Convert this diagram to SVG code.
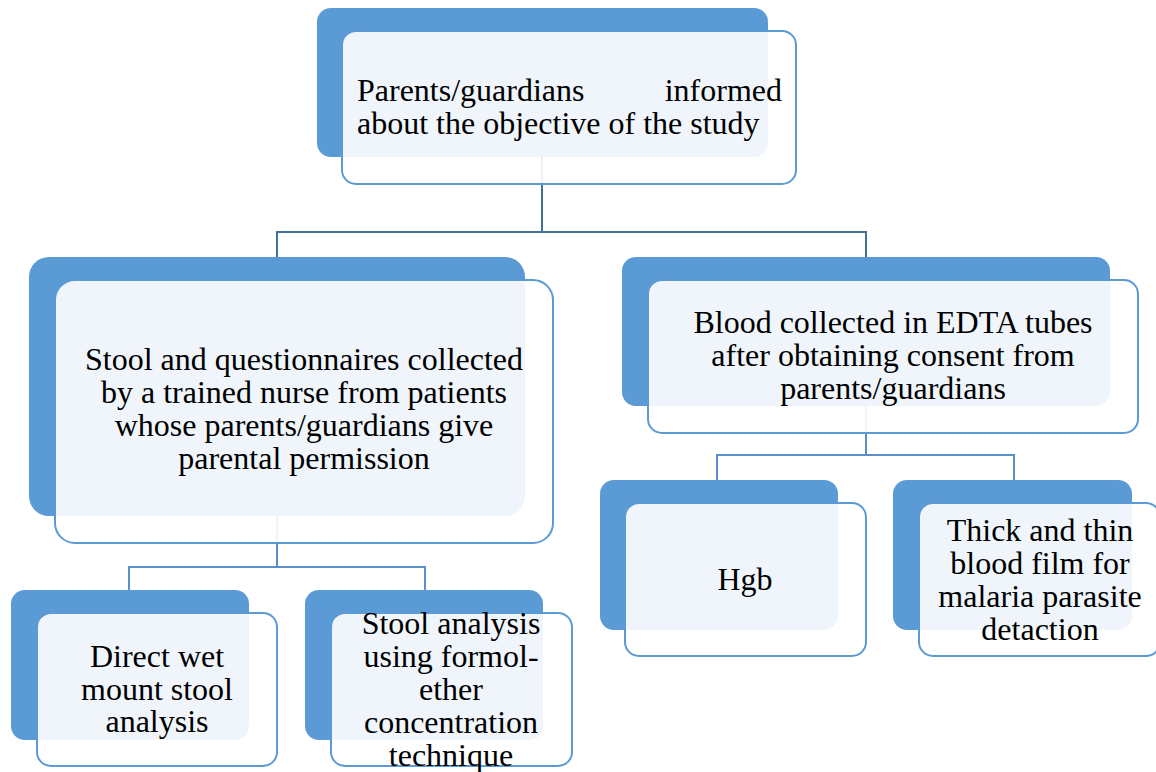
<svg xmlns="http://www.w3.org/2000/svg" width="1156" height="772" viewBox="0 0 1156 772">
<style>
.back{fill:#5B9BD5}
.front{fill:#FFFFFF;fill-opacity:0.9;stroke:#5B9BD5;stroke-width:2}
.conn{fill:none;stroke:#41719C;stroke-width:2}
.conn2{fill:none;stroke:#5B8FC8;stroke-width:2}
text{font-family:"Liberation Serif","Times New Roman",serif;font-size:32px;fill:#000}
.c{text-anchor:middle}
</style>
<rect width="1156" height="772" fill="#FFFFFF"/>
<g id="connectors">
<path class="conn" d="M542 157 V232 M277 232 H866 M277 231 V257 M866 231 V257"/>
<path class="conn2" d="M277 516 V567 M129 567 H425 M129 566 V590 M425 566 V590"/>
<path class="conn2" d="M866 406 V455 M717 455 H1014 M717 454 V480 M1014 454 V480"/>
</g>
<g id="node-top">
<rect class="back" x="317" y="8" width="451" height="149" rx="14"/>
<rect class="front" x="342" y="31" width="454" height="153" rx="14"/>
<text x="357" y="101">Parents/guardians</text>
<text x="782" y="101" text-anchor="end">informed</text>
<text x="357" y="134">about the objective of the study</text>
</g>
<g id="node-stool">
<rect class="back" x="29" y="257" width="496" height="259" rx="20"/>
<rect class="front" x="55" y="280" width="498" height="263" rx="20"/>
<text class="c" x="304" y="370">Stool and questionnaires collected</text>
<text class="c" x="304" y="403">by a trained nurse from patients</text>
<text class="c" x="304" y="436">whose parents/guardians give</text>
<text class="c" x="304" y="469">parental permission</text>
</g>
<g id="node-blood">
<rect class="back" x="622" y="257" width="488" height="149" rx="14"/>
<rect class="front" x="648" y="280" width="490" height="153" rx="14"/>
<text class="c" x="893" y="333">Blood collected in EDTA tubes</text>
<text class="c" x="893" y="366">after obtaining consent from</text>
<text class="c" x="893" y="399">parents/guardians</text>
</g>
<g id="node-wet">
<rect class="back" x="11" y="590" width="238" height="150" rx="14"/>
<rect class="front" x="37" y="613" width="240" height="153" rx="14"/>
<text class="c" x="157" y="667">Direct wet</text>
<text class="c" x="157" y="700">mount stool</text>
<text class="c" x="157" y="732">analysis</text>
</g>
<g id="node-formol">
<rect class="back" x="305" y="590" width="238" height="150" rx="14"/>
<rect class="front" x="331" y="613" width="241" height="153" rx="14"/>
<text class="c" x="451" y="634">Stool analysis</text>
<text class="c" x="451" y="667">using formol-</text>
<text class="c" x="451" y="700">ether</text>
<text class="c" x="451" y="733">concentration</text>
<text class="c" x="451" y="766">technique</text>
</g>
<g id="node-hgb">
<rect class="back" x="600" y="480" width="238" height="150" rx="14"/>
<rect class="front" x="625" y="503" width="241" height="153" rx="14"/>
<text class="c" x="745" y="590">Hgb</text>
</g>
<g id="node-film">
<rect class="back" x="893" y="480" width="239" height="150" rx="14"/>
<rect class="front" x="919" y="503" width="241" height="153" rx="14"/>
<text class="c" x="1040" y="541">Thick and thin</text>
<text class="c" x="1040" y="574">blood film for</text>
<text class="c" x="1040" y="607">malaria parasite</text>
<text class="c" x="1040" y="640">detaction</text>
</g>
</svg>
